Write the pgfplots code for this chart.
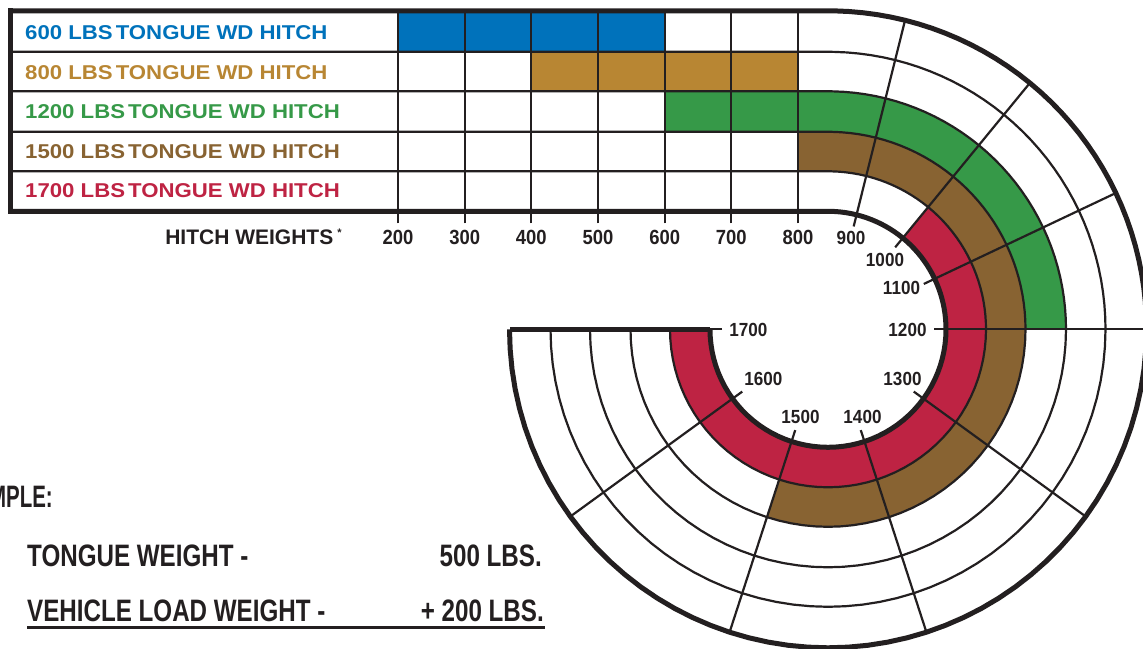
\documentclass[border=0pt]{standalone}
\usepackage{fontspec}
\usepackage{pgfplots}
\pgfplotsset{compat=1.18}
\usepackage{pgfplotstable}
\usepgfplotslibrary{fillbetween}
\setmainfont{Liberation Sans}
\newfontfamily\widef{Liberation Sans}[FakeStretch=1.11]
\newfontfamily\condf{Liberation Sans}[FakeStretch=0.78]
\newfontfamily\exf{Liberation Sans}[FakeStretch=0.66]
\newfontfamily\numf{Liberation Sans}[FakeStretch=0.9]

\definecolor{cblue}{RGB}{0,114,187}
\definecolor{cgold}{RGB}{184,134,51}
\definecolor{cgreen}{RGB}{54,153,72}
\definecolor{cbrown}{RGB}{136,99,50}
\definecolor{cred}{RGB}{190,35,67}
\definecolor{ink}{RGB}{35,31,32}

% spiral centre (px) and mapping of hitch weight (lbs) to angle
\def\CX{828}
\def\CY{329.3}
\newcommand\ANG[1]{(ifthenelse((#1)<900.001,90-max(0,(#1)-845)*14/55,ifthenelse((#1)<1200.001,76-((#1)-900)*76/300,-((#1)-1200)*0.36)))}
\newcommand\PX[2]{\CX+min(0,((#1)-845)*2/3)+(#2)*cos(\ANG{#1})}
\newcommand\PY[2]{\CY-(#2)*sin(\ANG{#1})}

% outline vertices of the weight scale (lbs)
\pgfplotstableread[row sep=\\]{
w k\\ -382 0\\ 200 0\\ 300 0\\ 400 0\\ 500 0\\ 600 0\\ 700 0\\ 800 0\\ 845 0\\
850 0\\ 860 0\\ 870 0\\ 880 0\\ 890 0\\ 900 0\\ 910 0\\ 920 0\\ 930 0\\ 940 0\\ 950 0\\ 960 0\\ 970 0\\ 980 0\\ 990 0\\
1000 0\\ 1010 0\\ 1020 0\\ 1030 0\\ 1040 0\\ 1050 0\\ 1060 0\\ 1070 0\\ 1080 0\\ 1090 0\\
1100 0\\ 1110 0\\ 1120 0\\ 1130 0\\ 1140 0\\ 1150 0\\ 1160 0\\ 1170 0\\ 1180 0\\ 1190 0\\
1200 0\\ 1210 0\\ 1220 0\\ 1230 0\\ 1240 0\\ 1250 0\\ 1260 0\\ 1270 0\\ 1280 0\\ 1290 0\\
1300 0\\ 1310 0\\ 1320 0\\ 1330 0\\ 1340 0\\ 1350 0\\ 1360 0\\ 1370 0\\ 1380 0\\ 1390 0\\
1400 0\\ 1410 0\\ 1420 0\\ 1430 0\\ 1440 0\\ 1450 0\\ 1460 0\\ 1470 0\\ 1480 0\\ 1490 0\\
1500 0\\ 1510 0\\ 1520 0\\ 1530 0\\ 1540 0\\ 1550 0\\ 1560 0\\ 1570 0\\ 1580 0\\ 1590 0\\
1600 0\\ 1610 0\\ 1620 0\\ 1630 0\\ 1640 0\\ 1650 0\\ 1660 0\\ 1670 0\\ 1680 0\\ 1690 0\\ 1700 0\\
}\geomtab

% id, inner radius, outer radius, start lbs, end lbs, colour
\newcommand\band[6]{%
  \addplot[draw=none, name path=bi#1] table[x expr={\PX{\thisrow{w}}{#2}}, y expr={\PY{\thisrow{w}}{#2}}, restrict expr to domain={\thisrow{w}}{#4:#5}]{\geomtab};
  \addplot[draw=none, name path=bo#1] table[x expr={\PX{\thisrow{w}}{#3}}, y expr={\PY{\thisrow{w}}{#3}}, restrict expr to domain={\thisrow{w}}{#4:#5}]{\geomtab};
  \addplot[fill=#6, draw=none] fill between[of=bo#1 and bi#1];
}
\newcommand\ring[2]{%
  \addplot[ink, line width=#2] table[x expr={\PX{\thisrow{w}}{#1}}, y expr={\PY{\thisrow{w}}{#1}}]{\geomtab};
}

\begin{document}
\begin{tikzpicture}[every node/.style={inner sep=0pt}]
\begin{axis}[x=1pt, y=1pt, xmin=0, xmax=1143, ymin=0, ymax=648, y dir=reverse,
  hide axis, scale only axis, clip=true, no marks, line join=round,
  at={(0,0)}, anchor=south west]

% hitch ranges (lbs)
\band{1}{277.5}{318.5}{200}{600}{cblue}
\band{2}{238}{277.5}{400}{800}{cgold}
\band{3}{197.5}{238}{600}{1200}{cgreen}
\band{4}{158}{197.5}{800}{1500}{cbrown}
\band{5}{118}{158}{1000}{1700}{cred}

% row dividers
\ring{158}{2.2pt}
\ring{197.5}{2.2pt}
\ring{238}{2.2pt}
\ring{277.5}{2.2pt}

% weight lines
\pgfplotsinvokeforeach{200,300,400,500,600,700,800,900,1000,1100,1200,1300,1400,1500,1600,1700}{
  \addplot[ink, line width=2.2pt] table[row sep=\\, x expr={\PX{\thisrow{w}}{\thisrow{r}}}, y expr={\PY{\thisrow{w}}{\thisrow{r}}}]{w r\\ #1 106\\ #1 318.5\\};
}

% frame
\ring{318.5}{5pt}
\ring{118}{5pt}
\addplot[ink, line width=5pt, line cap=rect] coordinates {(10,10.8) (10,211.3)};
\addplot[ink, line width=5pt] table[row sep=\\, x expr={\PX{\thisrow{w}}{\thisrow{r}}}, y expr={\PY{\thisrow{w}}{\thisrow{r}}}]{w r\\ 1700 118\\ 1700 318.5\\};

% row labels
\tikzset{rl/.style={inner sep=0pt, anchor=base west, font=\widef\bfseries\fontsize{20}{24}\selectfont}}
\node[rl, text=cblue]  at (axis cs:25,39.3)  {600 LBS\kern3pt TONGUE WD HITCH};
\node[rl, text=cgold]  at (axis cs:25,79.3)  {800 LBS\kern3pt TONGUE WD HITCH};
\node[rl, text=cgreen] at (axis cs:25,119)   {1200 LBS\kern3pt TONGUE WD HITCH};
\node[rl, text=cbrown] at (axis cs:25,159)   {1500 LBS\kern3pt TONGUE WD HITCH};
\node[rl, text=cred]   at (axis cs:25,197.3) {1700 LBS\kern3pt TONGUE WD HITCH};

% axis caption
\node[inner sep=0pt, anchor=base east, text=ink, font=\bfseries\fontsize{21}{24}\selectfont] at (axis cs:333.5,245) {HITCH WEIGHTS};
\node[inner sep=0pt, anchor=center, text=ink, font=\bfseries\fontsize{11}{12}\selectfont] at (axis cs:339.5,233) {*};

% weight labels
\tikzset{tl/.style={inner sep=0pt, anchor=base, text=ink, font=\numf\bfseries\fontsize{20.5}{24}\selectfont},
         al/.style={inner sep=0pt, anchor=center, text=ink, font=\numf\bfseries\fontsize{19}{22}\selectfont}}
\node[tl] at (axis cs:398,245) {200};
\node[tl] at (axis cs:464.7,245) {300};
\node[tl] at (axis cs:531.3,245) {400};
\node[tl] at (axis cs:598,245) {500};
\node[tl] at (axis cs:664.7,245) {600};
\node[tl] at (axis cs:731.3,245) {700};
\node[tl] at (axis cs:798,245) {800};
\node[al] at (axis cs:851,237.5) {900};
\node[al] at (axis cs:885,260) {1000};
\node[al] at (axis cs:901.5,288) {1100};
\node[al] at (axis cs:907.5,330) {1200};
\node[al] at (axis cs:902.5,379.3) {1300};
\node[al] at (axis cs:862.5,417) {1400};
\node[al] at (axis cs:800.5,417) {1500};
\node[al] at (axis cs:763.3,379.3) {1600};
\node[al] at (axis cs:748.3,330) {1700};

% example text
\tikzset{ex/.style={inner sep=0pt, text=ink, font=\condf\bfseries\fontsize{31}{34}\selectfont}}
\node[ex, anchor=base east, font=\exf\bfseries\fontsize{31}{34}\selectfont] at (axis cs:53,508) {EXAMPLE:};
\node[ex, anchor=base west] at (axis cs:27,566.7) {TONGUE WEIGHT -};
\node[ex, anchor=base east] at (axis cs:542,566.7) {500 LBS.};
\node[ex, anchor=base west] at (axis cs:27,621.7) {VEHICLE LOAD WEIGHT -};
\node[ex, anchor=base east] at (axis cs:544,621.7) {+ 200 LBS.};
\addplot[ink, line width=2.5pt] coordinates {(27,627.5) (545,627.5)};
\end{axis}
\pgfresetboundingbox
\path[use as bounding box] (0,0) rectangle (1143pt,648pt);
\end{tikzpicture}
\end{document}
